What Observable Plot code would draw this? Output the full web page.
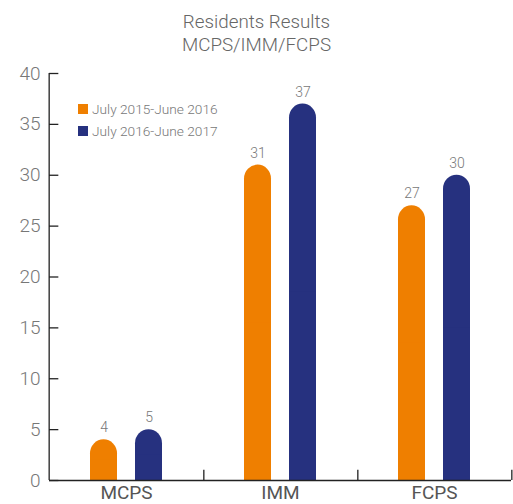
<!DOCTYPE html>
<html>
<head>
<meta charset="utf-8">
<script src="https://cdn.jsdelivr.net/npm/d3@7"></script>
<script src="https://cdn.jsdelivr.net/npm/@observablehq/plot@0.6"></script>
<style>
  html, body { margin: 0; padding: 0; background: #fff; }
  body { width: 513px; height: 504px; position: relative; overflow: hidden; font-family: Roboto, "Liberation Sans", sans-serif; }
  #title { position: absolute; left: 0; top: 11px; width: 513px; text-align: center; color: #666; font-size: 18.8px; font-weight: 300; line-height: 23px; }
  #chart { position: absolute; left: 0; top: 60px; }
  #legend { position: absolute; left: 78px; top: 98px; font-size: 13.7px; color: #777; font-weight: 300; }
  #legend .item { display: flex; align-items: center; height: 22px; }
  #legend .sw { width: 10px; height: 10px; margin-right: 4px; }
</style>
</head>
<body>
<div id="title">Residents Results<br>MCPS/IMM/FCPS</div>
<div id="chart"></div>
<div id="legend"></div>
<script>
const categories = ["MCPS", "IMM", "FCPS"];
const series = ["July 2015-June 2016", "July 2016-June 2017"];
const values2016 = [4, 31, 27];
const values2017 = [5, 37, 30];
const colors = ["#EF7F00", "#26317F"];
const yTicks = [0, 5, 10, 15, 20, 25, 30, 35, 40];

const data = [];
categories.forEach((c, i) => {
  data.push({category: c, series: series[0], value: values2016[i]});
  data.push({category: c, series: series[1], value: values2017[i]});
});

const W = 513, H = 444, mL = 48, mR = 1, mT = 13, mB = 24;
const facetW = (W - mL - mR) / categories.length;
const tickLen = 10;
const axisColor = "#222";
const first = () => categories[0];

const plot = Plot.plot({
  width: W, height: H,
  marginLeft: mL, marginRight: mR, marginTop: mT, marginBottom: mB,
  style: {fontFamily: "Roboto, 'Liberation Sans', sans-serif", background: "white"},
  fx: {domain: categories, padding: 0, label: null, axis: null},
  x: {domain: series, paddingInner: 0.391, paddingOuter: 0.876, axis: null},
  y: {domain: [0, 40], label: null, axis: null},
  color: {domain: series, range: colors},
  marks: [
    Plot.barY(data, {fx: "category", x: "series", y: "value", fill: "series", rx: 14}),
    Plot.barY(data, {fx: "category", x: "series", y1: 0, y2: d => d.value / 2, fill: "series"}),
    Plot.text(data, {fx: "category", x: "series", y: "value", text: d => String(d.value), dy: -12, fill: "#777", fontSize: 14, fontWeight: 300}),
    Plot.ruleY([0], {stroke: axisColor, strokeWidth: 1.3}),
    Plot.ruleX(categories, {fx: d => d, x: null, y1: 0, y2: 1, dx: facetW / 2, stroke: axisColor, strokeWidth: 1.3}),
    Plot.ruleX([categories[0]], {fx: d => d, x: null, y1: 0, y2: 40, dx: -facetW / 2, stroke: axisColor, strokeWidth: 1.3}),
    Plot.tickY(yTicks, {fx: first, y: d => d, insetRight: facetW - tickLen, stroke: axisColor, strokeWidth: 1.3}),
    Plot.axisY(yTicks, {tickSize: 0, tickPadding: 9, fontSize: 19, fill: "#777", fontWeight: 300, label: null}),
    Plot.axisFx({anchor: "bottom", tickSize: 0, tickPadding: 5, fontSize: 19, fill: "#555", fontWeight: 400, label: null})
  ]
});
document.getElementById("chart").appendChild(plot);

const legend = document.getElementById("legend");
series.forEach((s, i) => {
  const item = document.createElement("div");
  item.className = "item";
  const sw = document.createElement("span");
  sw.className = "sw";
  sw.style.background = colors[i];
  const t = document.createElement("span");
  t.textContent = s;
  item.appendChild(sw);
  item.appendChild(t);
  legend.appendChild(item);
});
</script>
</body>
</html>
